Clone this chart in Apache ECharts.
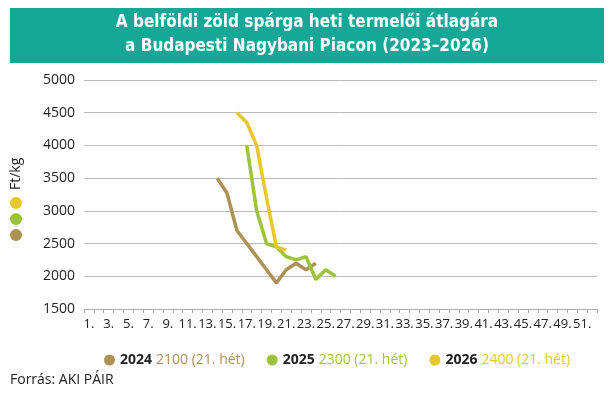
<!DOCTYPE html>
<html>
<head>
<meta charset="utf-8">
<script src="https://cdn.jsdelivr.net/npm/echarts@6/dist/echarts.min.js"></script>
<style>
  html, body { margin: 0; padding: 0; background: #fff; }
  #chart { width: 614px; height: 401px; }
</style>
</head>
<body>
<div id="chart"></div>
<script>
  // weeks 1..52
  const weeks = []
  for (let i = 1; i <= 52; i++) weeks.push(i + '.')

  // weekly prices, Ft/kg (null = no data)
  const y2024 = [null, null, null, null, null, null, null, null, null, null, null, null, null,
    3500, 3270, 2700, 2500, 2300, 2100, 1900, 2100, 2200, 2100, 2200]
  const y2025 = [null, null, null, null, null, null, null, null, null, null, null, null, null, null, null, null,
    4000, 3000, 2500, 2450, 2300, 2250, 2300, 1950, 2100, 2000]
  const y2026 = [null, null, null, null, null, null, null, null, null, null, null, null, null, null, null,
    4500, 4350, 4000, 3200, 2450, 2400]

  const years = ['2024', '2025', '2026']
  const lastValues = ['2100 (21. hét)', '2300 (21. hét)', '2400 (21. hét)']
  const colors = ['#ae9155', '#9dc33b', '#e8c72e']

  const font = "'Open Sans', sans-serif"
  const dom = echarts.init(document.getElementById('chart'))

  const rich = { y: { fontWeight: 'bold', color: '#222', fontSize: 14, fontFamily: font, padding: [0, 4, 0, 0] } }
  years.forEach((y, i) => {
    rich['v' + i] = { color: colors[i], fontSize: 14, fontFamily: font }
  })

  const option = {
    animation: false,
    graphic: [{
      type: 'rect',
      shape: { x: 10, y: 8, width: 594, height: 55 },
      style: { fill: '#17a797' },
      silent: true
    }, {
      type: 'text',
      left: 'center',
      top: 11,
      style: {
        text: 'A belföldi zöld spárga heti termelői átlagára\na Budapesti Nagybani Piacon (2023–2026)',
        fill: '#fff',
        font: "bold 17px 'Liberation Sans Narrow', 'DejaVu Sans Condensed', Roboto, sans-serif",
        lineHeight: 24,
        textAlign: 'center'
      }
    }, {
      type: 'text',
      x: 9,
      y: 190,
      rotation: Math.PI / 2,
      style: {
        text: 'Ft/kg',
        fill: '#222',
        font: "14px 'Open Sans', sans-serif"
      }
    }, {
      type: 'text',
      left: 10,
      top: 373,
      style: {
        text: 'Forrás: AKI PÁIR',
        fill: '#222',
        font: "14px 'Open Sans', sans-serif"
      }
    }],
    legend: [{
      data: years,
      bottom: 29,
      left: 99,
      icon: 'circle',
      itemWidth: 11,
      itemHeight: 11,
      itemGap: 22,
      formatter: name => {
        const i = years.indexOf(name)
        return '{y|' + name + '}{v' + i + '|' + lastValues[i] + '}'
      },
      textStyle: { rich: rich }
    }, {
      data: ['2026', '2025', '2024'],
      orient: 'vertical',
      left: 10,
      top: 197,
      padding: 0,
      icon: 'circle',
      itemWidth: 12,
      itemHeight: 12,
      itemGap: 4,
      formatter: () => '',
      selectedMode: false
    }],
    grid: {
      left: 84,
      right: 17,
      top: 80,
      bottom: 92,
      containLabel: false,
      outerBoundsMode: 'none'
    },
    xAxis: {
      type: 'category',
      data: weeks,
      axisLine: { lineStyle: { color: '#aaa' } },
      axisTick: { show: true, interval: 0, length: 4, lineStyle: { color: '#aaa' } },
      axisLabel: {
        interval: 1,
        hideOverlap: false,
        color: '#222',
        fontSize: 13,
        fontFamily: font,
        margin: 9
      }
    },
    yAxis: {
      type: 'value',
      min: 1500,
      max: 5000,
      interval: 500,
      axisLine: { show: false },
      axisTick: { show: false },
      axisLabel: {
        color: '#222',
        fontSize: 14,
        fontFamily: font,
        margin: 9,
        formatter: v => String(v)
      },
      splitLine: { lineStyle: { color: '#bbb' } }
    },
    series: years.map((y, i) => ({
      name: y,
      type: 'line',
      data: [y2024, y2025, y2026][i],
      symbol: 'none',
      connectNulls: false,
      lineStyle: { width: 3.5, color: colors[i] },
      itemStyle: { color: colors[i] }
    }))
  }

  dom.setOption(option)
</script>
</body>
</html>
